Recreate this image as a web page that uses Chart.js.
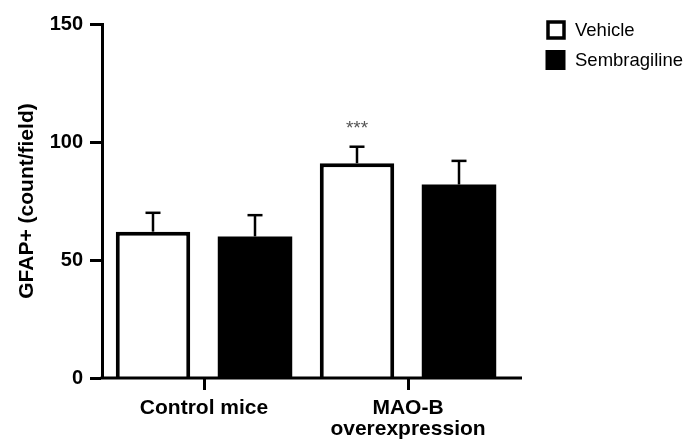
<!DOCTYPE html>
<html>
<head>
<meta charset="utf-8">
<script src="https://cdn.jsdelivr.net/npm/chart.js@4.4.1/dist/chart.umd.min.js"></script>
<style>
  html, body { margin: 0; padding: 0; background: #fff; }
  #wrap { width: 688px; height: 439px; }
</style>
</head>
<body>
<div id="wrap"><canvas id="c" width="688" height="439"></canvas></div>
<script>
const categories = ['Control mice', ['MAO-B', 'overexpression']];
const seriesNames = ['Vehicle', 'Sembragiline'];
const vehicleMeans = [62, 91];
const vehicleErr = [8, 7];
const sembMeans = [60, 82];
const sembErr = [9, 10];
const vehicleSignif = ['', '***'];
const yTickValues = [0, 50, 100, 150];
const yTitle = 'GFAP+ (count/field)';

const FONT = "'Liberation Sans', Arial, sans-serif";

const errorBarPlugin = {
  id: 'errorBars',
  afterDatasetsDraw(chart) {
    const ctx = chart.ctx;
    const y = chart.scales.y;
    chart.data.datasets.forEach((ds, di) => {
      const meta = chart.getDatasetMeta(di);
      meta.data.forEach((el, i) => {
        const mean = ds.data[i];
        const err = ds.errors[i];
        const x = el.x;
        const yb = y.getPixelForValue(mean);
        const yt = y.getPixelForValue(mean + err);
        ctx.save();
        ctx.strokeStyle = '#000';
        ctx.lineWidth = 2.5;
        ctx.beginPath();
        ctx.moveTo(x, yb);
        ctx.lineTo(x, yt);
        ctx.stroke();
        ctx.beginPath();
        ctx.moveTo(x - 7.5, yt);
        ctx.lineTo(x + 7.5, yt);
        ctx.stroke();
        const sig = ds.signif ? ds.signif[i] : '';
        if (sig) {
          ctx.fillStyle = '#555';
          ctx.font = '19px ' + FONT;
          ctx.textAlign = 'center';
          ctx.textBaseline = 'middle';
          ctx.fillText(sig, x, yt - 18);
        }
        ctx.restore();
      });
    });
    // x axis line
    const ca = chart.chartArea;
    const y0 = y.getPixelForValue(0);
    ctx.save();
    ctx.strokeStyle = '#000';
    ctx.lineWidth = 3;
    ctx.beginPath();
    ctx.moveTo(ca.left - 1.5, y0);
    ctx.lineTo(522, y0);
    ctx.stroke();
    ctx.restore();
  }
};

const legendPlugin = {
  id: 'customLegend',
  afterDraw(chart) {
    const ctx = chart.ctx;
    ctx.save();
    chart.data.datasets.forEach((ds, i) => {
      const cy = 30 + i * 30;
      if (ds.backgroundColor === '#ffffff') {
        ctx.fillStyle = '#fff';
        ctx.fillRect(548, cy - 8, 16, 16);
        ctx.strokeStyle = '#000';
        ctx.lineWidth = 3.5;
        ctx.strokeRect(548, cy - 8, 16, 16);
      } else {
        ctx.fillStyle = '#000';
        ctx.fillRect(545.5, cy - 10, 20, 20);
      }
      ctx.fillStyle = '#000';
      ctx.font = '18.5px ' + FONT;
      ctx.textAlign = 'left';
      ctx.textBaseline = 'middle';
      ctx.fillText(ds.label, 575, cy + 1);
    });
    ctx.restore();
  }
};

new Chart(document.getElementById('c'), {
  type: 'bar',
  data: {
    labels: categories,
    datasets: [
      {
        label: seriesNames[0],
        data: vehicleMeans,
        errors: vehicleErr,
        signif: vehicleSignif,
        backgroundColor: '#ffffff',
        borderColor: '#000000',
        borderWidth: 4,
        borderSkipped: 'bottom',
        categoryPercentage: 1.0,
        barPercentage: 0.73
      },
      {
        label: seriesNames[1],
        data: sembMeans,
        errors: sembErr,
        backgroundColor: '#000000',
        borderWidth: 0,
        categoryPercentage: 1.0,
        barPercentage: 0.73
      }
    ]
  },
  options: {
    responsive: false,
    animation: false,
    devicePixelRatio: 1,
    layout: { padding: { top: 24, right: 178, left: 0, bottom: 0 } },
    plugins: {
      legend: { display: false },
      tooltip: { enabled: false }
    },
    scales: {
      x: {
        type: 'category',
        offset: true,
        grid: {
          display: true,
          drawOnChartArea: false,
          drawTicks: true,
          tickLength: 12,
          tickWidth: 3,
          tickColor: '#000',
          offset: false
        },
        border: { display: false },
        ticks: {
          color: '#000',
          font: { family: FONT, size: 21, weight: 'bold', lineHeight: 1.0 },
          padding: 8,
          maxRotation: 0,
          autoSkip: false
        },
        afterFit(s) { s.height = 61; }
      },
      y: {
        min: 0,
        max: 150,
        afterBuildTicks(s) { s.ticks = yTickValues.map(v => ({ value: v })); },
        grid: {
          display: true,
          drawOnChartArea: false,
          drawTicks: true,
          tickLength: 12,
          tickWidth: 3,
          tickColor: '#000'
        },
        border: { display: true, color: '#000', width: 3 },
        ticks: {
          color: '#000',
          font: { family: FONT, size: 20, weight: 'bold' },
          padding: 7
        },
        title: {
          display: true,
          text: yTitle,
          color: '#000',
          font: { family: FONT, size: 21, weight: 'bold' },
          padding: { top: 15, bottom: 0 }
        },
        afterFit(s) { s.width = 102; }
      }
    }
  },
  plugins: [errorBarPlugin, legendPlugin]
});
</script>
</body>
</html>
